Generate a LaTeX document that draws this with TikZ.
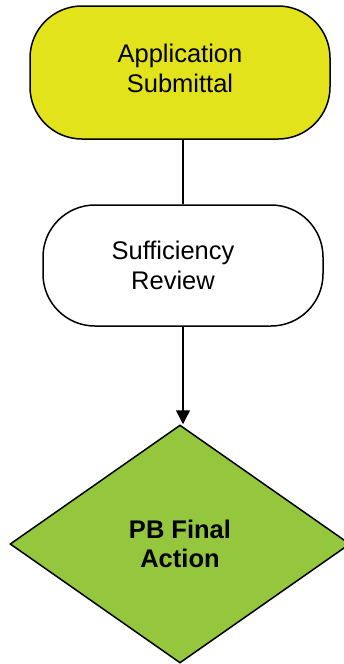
\documentclass[tikz,border=0pt]{standalone}
\usepackage{fontspec}
\setmainfont{Liberation Sans}
\usepackage{tikz}
\usetikzlibrary{shapes.geometric, arrows.meta}
\definecolor{appyellow}{RGB}{227,227,28}
\definecolor{pbgreen}{RGB}{148,199,61}
\tikzset{
  terminal/.style={rectangle, rounded corners=52pt, draw=black, line width=1.5pt, minimum width=300pt, minimum height=133pt},
  decision/.style={diamond, draw=black, line width=1.5pt, inner sep=0pt, minimum width=340pt, minimum height=238pt, fill=pbgreen},
  boxtext/.style={align=center, font=\fontsize{25.5}{29.5}\selectfont},
  arrow/.style={line width=1.4pt, -{Triangle[length=14pt, width=14pt]}},
  link/.style={line width=1.4pt}
}

\begin{document}
\begin{tikzpicture}[x=1pt, y=1pt]
    \useasboundingbox (0,0) rectangle (343,-664);
    \node (submit) [terminal, fill=appyellow, label={[boxtext, yshift=4pt]center:{Application\\Submittal}}] at (180,-72.5) {};
    \node (review) [terminal, fill=white, minimum width=280pt, minimum height=121pt, label={[boxtext, xshift=-10pt]center:{Sufficiency\\Review}}] at (183,-265.5) {};
    \node (final) [decision, boxtext] at (180,-544) {\textbf{PB Final}\\\textbf{Action}};

    \draw [link] (submit.south -| review) -- (review.north);
    \draw [arrow] (review.south) -- (review.south |- final.north);
\end{tikzpicture}
\end{document}
